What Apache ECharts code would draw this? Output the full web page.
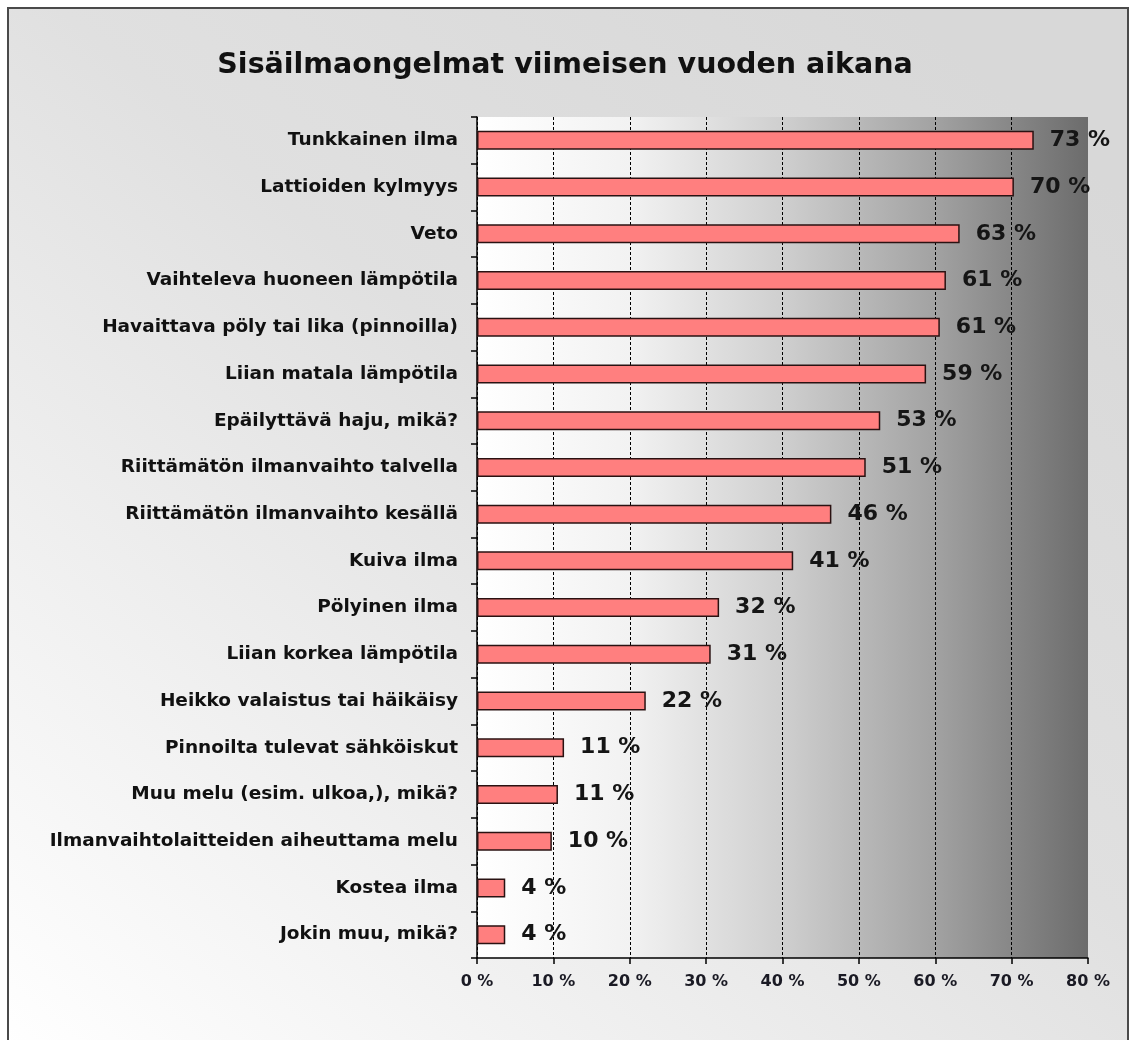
<!DOCTYPE html>
<html>
<head>
<meta charset="utf-8">
<script src="https://cdn.jsdelivr.net/npm/echarts@6/dist/echarts.min.js"></script>
<style>
  html, body { margin: 0; padding: 0; background: #fff; }
  #chart1 { width: 1130px; height: 1040px; }
</style>
</head>
<body>
<div id="chart1"></div>
<script>
var otsikko = 'Sisäilmaongelmat viimeisen vuoden aikana';
var kategoriat = [
    'Tunkkainen ilma',
    'Lattioiden kylmyys',
    'Veto',
    'Vaihteleva huoneen lämpötila',
    'Havaittava pöly tai lika (pinnoilla)',
    'Liian matala lämpötila',
    'Epäilyttävä haju, mikä?',
    'Riittämätön ilmanvaihto talvella',
    'Riittämätön ilmanvaihto kesällä',
    'Kuiva ilma',
    'Pölyinen ilma',
    'Liian korkea lämpötila',
    'Heikko valaistus tai häikäisy',
    'Pinnoilta tulevat sähköiskut',
    'Muu melu (esim. ulkoa,), mikä?',
    'Ilmanvaihtolaitteiden aiheuttama melu',
    'Kostea ilma',
    'Jokin muu, mikä?'
];
var osuudet = [72.9, 70.3, 63.2, 61.4, 60.6, 58.8, 52.8, 50.9, 46.4, 41.4, 31.7, 30.6, 22.1, 11.4, 10.6, 9.8, 3.7, 3.7];
var asteikko = [0, 80, 10];   // min, max, väli

var fontti = '"DejaVu Sans", Verdana, sans-serif';
var myChartBar = echarts.init(document.getElementById('chart1'));
var optionBar = {
    backgroundColor: '#ffffff',
    textStyle: { fontFamily: fontti },
    // ulkokehys ja taustan liukuväri
    graphic: [{
        type: 'rect',
        z: -10,
        silent: true,
        shape: { x: 8, y: 8, width: 1120, height: 1045 },
        style: {
            fill: new echarts.graphic.LinearGradient(0.8, 0, 0, 1, [
                { offset: 0, color: '#d8d8d8' },
                { offset: 0.4, color: '#e0e0e0' },
                { offset: 1, color: '#ffffff' }
            ]),
            stroke: '#4a4a4a',
            lineWidth: 2
        }
    }],
    title: {
        text: otsikko,
        left: 'center',
        top: 46,
        textStyle: {
            fontFamily: fontti,
            fontSize: 28.5,
            fontWeight: 'bold',
            color: '#111'
        }
    },
    grid: {
        left: 477,
        right: 42,
        top: 117,
        bottom: 82,
        show: true,
        borderWidth: 0,
        //piirtoalueen liukuväri vasemmalta oikealle
        backgroundColor: new echarts.graphic.LinearGradient(0, 0, 1, 0, [
            { offset: 0, color: '#ffffff' },
            { offset: 0.25, color: '#f2f2f2' },
            { offset: 0.5, color: '#cfcfcf' },
            { offset: 0.75, color: '#a2a2a2' },
            { offset: 1, color: '#6c6c6c' }
        ])
    },
    xAxis: {
        type: 'value',
        min: asteikko[0],
        max: asteikko[1],
        interval: asteikko[2],
        axisLine: { show: true, lineStyle: { color: '#000', width: 1.5 } },
        axisTick: { show: true, length: 6, lineStyle: { color: '#000', width: 1.5 } },
        axisLabel: {
            formatter: '{value} %',
            margin: 16,
            fontSize: 16,
            fontWeight: 'bold',
            color: '#1a1a24'
        },
        splitLine: {
            show: true,
            showMaxLine: false,
            lineStyle: { color: '#000', width: 1, type: [3, 2] }
        }
    },
    yAxis: {
        type: 'category',
        inverse: true,
        data: kategoriat,
        axisLine: { show: true, lineStyle: { color: '#000', width: 1.5 } },
        axisTick: { show: true, length: 6, lineStyle: { color: '#000', width: 1.5 } },
        axisLabel: {
            margin: 19,
            fontSize: 18.5,
            fontWeight: 'bold',
            color: '#111'
        },
        splitLine: { show: false }
    },
    series: [{
        name: 'Osuus',
        type: 'bar',
        data: osuudet,
        barWidth: 19,
        itemStyle: {
            color: '#ff7f7f',
            borderColor: '#2a1212',
            borderWidth: 1.5
        },
        label: {
            show: true,
            position: 'right',
            distance: 16,
            fontSize: 22,
            fontWeight: 'bold',
            color: '#151515',
            formatter: function (p) { return Math.round(p.value) + ' %'; }
        }
    }]
};
myChartBar.setOption(optionBar);
</script>
</body>
</html>
